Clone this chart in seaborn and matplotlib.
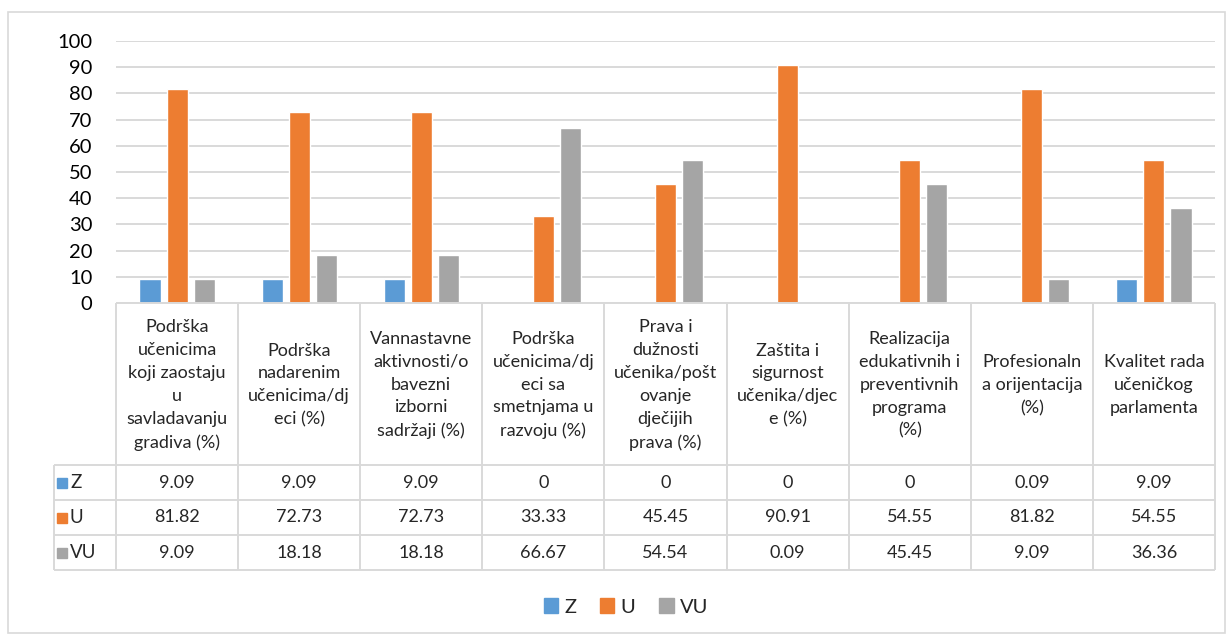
import matplotlib.pyplot as plt
import matplotlib.patches as mpatches
import pandas as pd
import seaborn as sns

# Data
categories = [
    "Podrška\nučenicima\nkoji zaostaju\nu\nsavladavanju\ngradiva (%)",
    "Podrška\nnadarenim\nučenicima/dj\neci (%)",
    "Vannastavne\naktivnosti/o\nbavezni\nizborni\nsadržaji (%)",
    "Podrška\nučenicima/dj\neci sa\nsmetnjama u\nrazvoju (%)",
    "Prava i\ndužnosti\nučenika/pošt\novanje\ndječijih\nprava (%)",
    "Zaštita i\nsigurnost\nučenika/djec\ne (%)",
    "Realizacija\nedukativnih i\npreventivnih\nprograma\n(%)",
    "Profesionaln\na orijentacija\n(%)",
    "Kvalitet rada\nučeničkog\nparlamenta",
]
series = ["Z", "U", "VU"]
z_values = [9.09, 9.09, 9.09, 0, 0, 0, 0, 0.09, 9.09]
u_values = [81.82, 72.73, 72.73, 33.33, 45.45, 90.91, 54.55, 81.82, 54.55]
vu_values = [9.09, 18.18, 18.18, 66.67, 54.54, 0.09, 45.45, 9.09, 36.36]
y_ticks = list(range(0, 101, 10))

colors = {"Z": "#5B9BD5", "U": "#ED7D31", "VU": "#A5A5A5"}
line_color = "#D9D9D9"

values = {"Z": z_values, "U": u_values, "VU": vu_values}
df = pd.DataFrame(
    [(cat, s, values[s][i]) for s in series for i, cat in enumerate(categories)],
    columns=["category", "series", "value"],
)

sns.set_style("white")
plt.rcParams["font.family"] = ["Lato", "DejaVu Sans"]

W, H = 1231, 639
fig = plt.figure(figsize=(W / 100, H / 100), dpi=100)


def fx(px):
    return px / W


def fy(py):
    return 1 - py / H


# pixel layout of the Excel chart
plot_left, plot_right, plot_top, plot_bottom = 116, 1215, 41, 303
label_left = 54
rows_y = [303, 465, 500, 535, 570]
col_w = (plot_right - plot_left) / len(categories)

ax = fig.add_axes([fx(plot_left), fy(plot_bottom),
                   (plot_right - plot_left) / W, (plot_bottom - plot_top) / H])
sns.barplot(
    data=df, x="category", y="value", hue="series",
    order=categories, hue_order=series, palette=colors,
    width=0.664, gap=0.22, saturation=1, errorbar=None,
    legend=False, ax=ax,
)
ax.set_xlim(-0.5, len(categories) - 0.5)
ax.set_ylim(0, 100)
ax.set_yticks(y_ticks)
ax.set_xticks([])
ax.set_xlabel("")
ax.set_ylabel("")
ax.yaxis.grid(True, color=line_color, lw=1.4)
ax.set_axisbelow(True)
sns.despine(ax=ax, left=True, bottom=True)
ax.tick_params(axis="y", length=0, labelsize=14.5, pad=17, labelcolor="#000000")

# data table under the plot
tax = fig.add_axes([fx(label_left), fy(rows_y[-1]),
                    (plot_right - label_left) / W, (rows_y[-1] - rows_y[0]) / H])
x0 = -0.5 - (plot_left - label_left) / col_w
x1 = len(categories) - 0.5
tax.set_xlim(x0, x1)
tax.set_ylim(rows_y[-1], rows_y[0])
tax.axis("off")

lk = dict(color=line_color, lw=1.4, clip_on=False, solid_capstyle="butt")
tax.plot([-0.5, x1], [rows_y[0]] * 2, **lk)
for yy in rows_y[1:]:
    tax.plot([x0, x1], [yy] * 2, **lk)
for i in range(len(categories) + 1):
    tax.plot([-0.5 + i] * 2, [rows_y[0], rows_y[-1]], **lk)
tax.plot([x0] * 2, [rows_y[1], rows_y[-1]], **lk)

fs = 13
for i, cat in enumerate(categories):
    tax.text(i, (rows_y[0] + rows_y[1]) / 2 + 1, cat, ha="center", va="center",
             fontsize=fs, linespacing=1.53)

for r, s in enumerate(series):
    yc = (rows_y[r + 1] + rows_y[r + 2]) / 2
    for i, v in enumerate(values[s]):
        tax.text(i, yc, f"{v:g}", ha="center", va="center", fontsize=fs)
    tax.plot([x0 + 8.5 / col_w], [yc], marker="s", ms=7.5, color=colors[s],
             clip_on=False, lw=0)
    tax.text(x0 + 16 / col_w, yc, s, ha="left", va="center", fontsize=fs + 0.5)

handles = [mpatches.Patch(color=colors[s], label=s) for s in series]
fig.legend(handles=handles, loc="center", bbox_to_anchor=(fx(626), fy(607)),
           ncol=3, frameon=False, fontsize=14.5, handlelength=0.7,
           handleheight=0.7, handletextpad=0.3, columnspacing=1.2)

fig.add_artist(mpatches.Rectangle((fx(8), fy(633)), (1225 - 8) / W, (633 - 12) / H,
                                  transform=fig.transFigure, fill=False,
                                  ec=line_color, lw=1.2))

fig.savefig("out.png", dpi=100)
